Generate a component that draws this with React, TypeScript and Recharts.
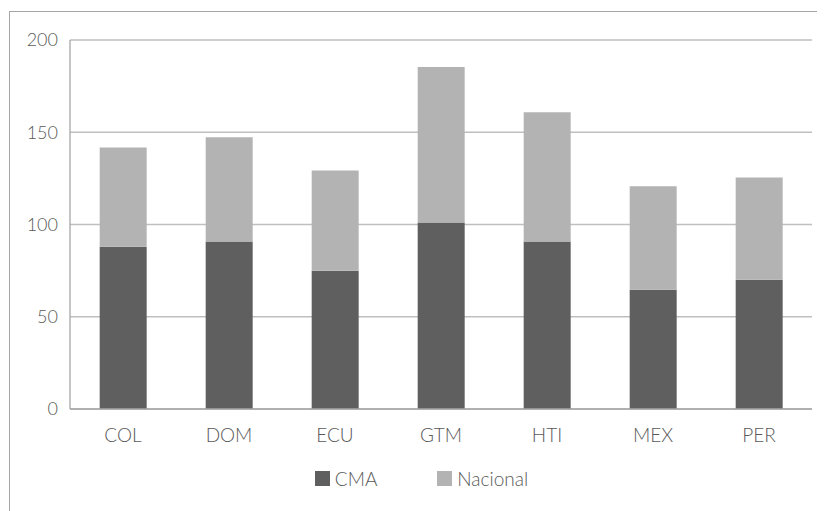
import React from "react";
import { BarChart, Bar, XAxis, YAxis, CartesianGrid, Legend } from "recharts";

const categories = ["COL", "DOM", "ECU", "GTM", "HTI", "MEX", "PER"];
const cmaValues = [88, 90.8, 75, 101.1, 90.8, 64.7, 70.1];
const nacionalValues = [53.8, 56.5, 54.3, 84.2, 70.1, 56, 55.4];
const yTicks = [0, 50, 100, 150, 200];

const data = categories.map((c, i) => ({ name: c, CMA: cmaValues[i], Nacional: nacionalValues[i] }));

const DARK = "#5f5f5f";
const LIGHT = "#b2b3b2";
const FONT = "Lato, 'Open Sans', sans-serif";

const LegendContent = () => (
  <div style={{ display: "flex", justifyContent: "center", paddingLeft: 8, fontFamily: FONT, fontWeight: 300, fontSize: 19, color: "#595959" }}>
    {[{ n: "CMA", c: DARK }, { n: "Nacional", c: LIGHT }].map((it, i) => (
      <div key={it.n} style={{ display: "flex", alignItems: "center", marginLeft: i ? 60 : 0 }}>
        <span style={{ display: "inline-block", width: 15, height: 15, background: it.c, marginRight: 5 }} />
        <span>{it.n}</span>
      </div>
    ))}
  </div>
);

export default function App() {
  return (
    <div style={{ marginLeft: 1, marginTop: 3, width: 816, height: 500, borderTop: "1px solid #a6a6a6", borderLeft: "1px solid #a6a6a6", position: "relative" }}>
      <BarChart width={815} height={499} data={data} margin={{ top: 28, right: 13, left: 0, bottom: 48 }} barCategoryGap="28%">
        <CartesianGrid vertical={false} stroke="#bfbfbf" strokeWidth={1.3} />
        <XAxis dataKey="name" tickLine={false} axisLine={{ stroke: "#a6a6a6", strokeWidth: 1.3 }} tickSize={0} tickMargin={20} height={30} tick={{ fill: "#595959", fontSize: 19, fontFamily: FONT, fontWeight: 300 }} />
        <YAxis domain={[0, 200]} ticks={yTicks} tickLine={false} axisLine={{ stroke: "#a6a6a6", strokeWidth: 1.3 }} tickSize={0} tickMargin={12} width={60} tick={{ fill: "#595959", fontSize: 18, fontFamily: FONT, fontWeight: 300 }} />
        <Legend content={<LegendContent />} wrapperStyle={{ position: "absolute", top: 455, left: 0, width: 815, height: 24 }} />
        <Bar dataKey="CMA" stackId="a" fill={DARK} isAnimationActive={false} />
        <Bar dataKey="Nacional" stackId="a" fill={LIGHT} isAnimationActive={false} />
      </BarChart>
    </div>
  );
}
